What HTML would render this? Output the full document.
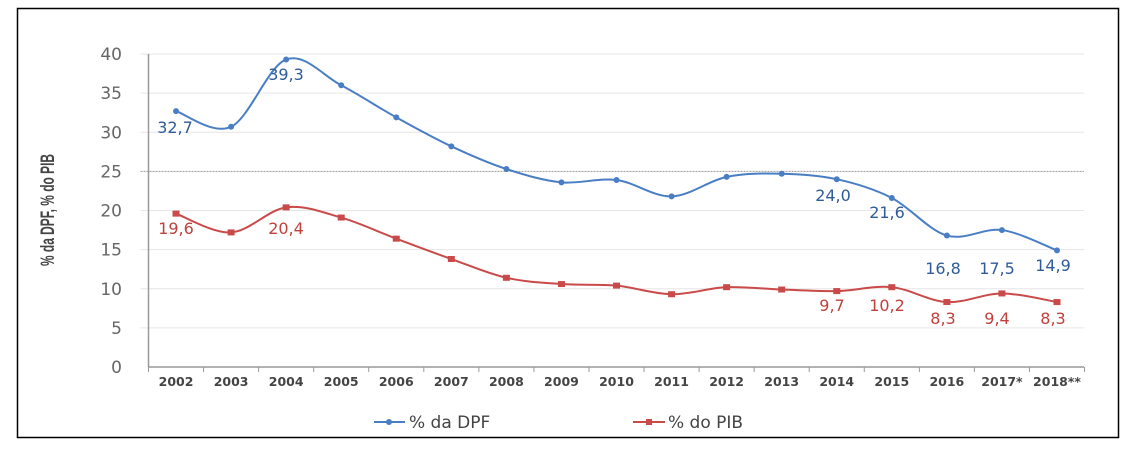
<!DOCTYPE html>
<html><head><meta charset="utf-8"><style>
body{margin:0;background:#fff;width:1143px;height:458px;overflow:hidden}
svg{display:block}
text{font-family:"DejaVu Sans","Liberation Sans",sans-serif}
</style></head><body>
<svg id="s" width="1143" height="458" viewBox="0 0 1143 458">
<rect x="17.5" y="8.5" width="1101" height="429" fill="#fff" stroke="#000" stroke-width="1.5"/>
<g id="grid"></g>
<g id="series"></g>
<text transform="translate(54,210) rotate(-90)" text-anchor="middle" font-weight="bold" font-size="19" fill="#444" style="font-family:'Liberation Sans Narrow','Liberation Sans',sans-serif" textLength="112" lengthAdjust="spacingAndGlyphs">% da DPF, % do PIB</text>
<line x1="374" y1="422" x2="405" y2="422" stroke="#4a7ec4" stroke-width="2"/>
<circle cx="389" cy="422" r="3" fill="#4a7ec4"/>
<text x="409" y="428" font-size="17" fill="#444">% da DPF</text>
<line x1="633" y1="422" x2="665" y2="422" stroke="#c94a48" stroke-width="2"/>
<rect x="646" y="419" width="6" height="6" fill="#c94a48"/>
<text x="668" y="428" font-size="17" fill="#444">% do PIB</text>
</svg>
<script>
var NS="http://www.w3.org/2000/svg",g=document.getElementById('grid'),s=document.getElementById('series');
function el(t,a,p,txt){var e=document.createElementNS(NS,t);for(var k in a)e.setAttribute(k,a[k]);if(txt)e.textContent=txt;(p||g).appendChild(e);return e}
var X0=148.5,W=55.06,Y0=367,K=7.825;
function X(i){return X0+W*(i+0.5)}function Y(v){return Y0-v*K}
for(var v=0;v<=40;v+=5){var y=Y(v);
 if(v>0)el('line',{x1:X0-8,x2:1084,y1:y,y2:y,stroke:v==25?'#999':'#e6e6e6','stroke-width':1,'stroke-dasharray':v==25?'2,1':'none'});
 el('text',{x:122,y:y+6,'text-anchor':'end','font-size':17,fill:'#666'},g,String(v));}
el('line',{x1:X0,x2:X0,y1:Y(40),y2:Y0,stroke:'#999','stroke-width':1.5});
el('line',{x1:X0,x2:1084,y1:Y0,y2:Y0,stroke:'#999','stroke-width':1.5});
var yrs=['2002','2003','2004','2005','2006','2007','2008','2009','2010','2011','2012','2013','2014','2015','2016','2017*','2018**'];
for(var i=0;i<=17;i++){var x=X0+W*i;el('line',{x1:x,x2:x,y1:Y0,y2:Y0+5,stroke:'#999'});}
yrs.forEach(function(t,i){el('text',{x:X(i),y:386,'text-anchor':'middle','font-size':12.5,'font-weight':'bold',fill:'#444'},g,t)});
var b=[32.7,30.7,39.3,36.0,31.9,28.2,25.3,23.6,23.9,21.8,24.3,24.7,24.0,21.6,16.8,17.5,14.9];
var r=[19.6,17.2,20.4,19.1,16.4,13.8,11.4,10.6,10.4,9.3,10.2,9.9,9.7,10.2,8.3,9.4,8.3];
function path(d){var p=d.map(function(v,i){return[X(i),Y(v)]});var s='M'+p[0];
 for(var i=0;i<p.length-1;i++){var p0=p[i-1]||p[i],p1=p[i],p2=p[i+1],p3=p[i+2]||p2,t=1/6;
 s+='C'+(p1[0]+(p2[0]-p0[0])*t)+','+(p1[1]+(p2[1]-p0[1])*t)+' '+(p2[0]-(p3[0]-p1[0])*t)+','+(p2[1]-(p3[1]-p1[1])*t)+' '+p2[0]+','+p2[1];}return s}
el('path',{d:path(b),fill:'none',stroke:'#4a7ec4','stroke-width':2},s);
el('path',{d:path(r),fill:'none',stroke:'#c94a48','stroke-width':2},s);
b.forEach(function(v,i){el('circle',{cx:X(i),cy:Y(v),r:3,fill:'#4a7ec4'},s)});
r.forEach(function(v,i){el('rect',{x:X(i)-3.5,y:Y(v)-3,width:7,height:6,fill:'#c94a48'},s)});
var bl=[[175,133,'32,7'],[286,80,'39,3'],[833,201,'24,0'],[887,218,'21,6'],[943,274,'16,8'],[997,274,'17,5'],[1053,271,'14,9']];
var rl=[[176,234,'19,6'],[286,234,'20,4'],[832,311,'9,7'],[887,311,'10,2'],[943,324,'8,3'],[997,324,'9,4'],[1053,324,'8,3']];
bl.forEach(function(a){el('text',{x:a[0],y:a[1],'text-anchor':'middle','font-size':16,fill:'#2f5b9a'},s,a[2])});
rl.forEach(function(a){el('text',{x:a[0],y:a[1],'text-anchor':'middle','font-size':16,fill:'#c0403c'},s,a[2])});
</script>
</body></html>
